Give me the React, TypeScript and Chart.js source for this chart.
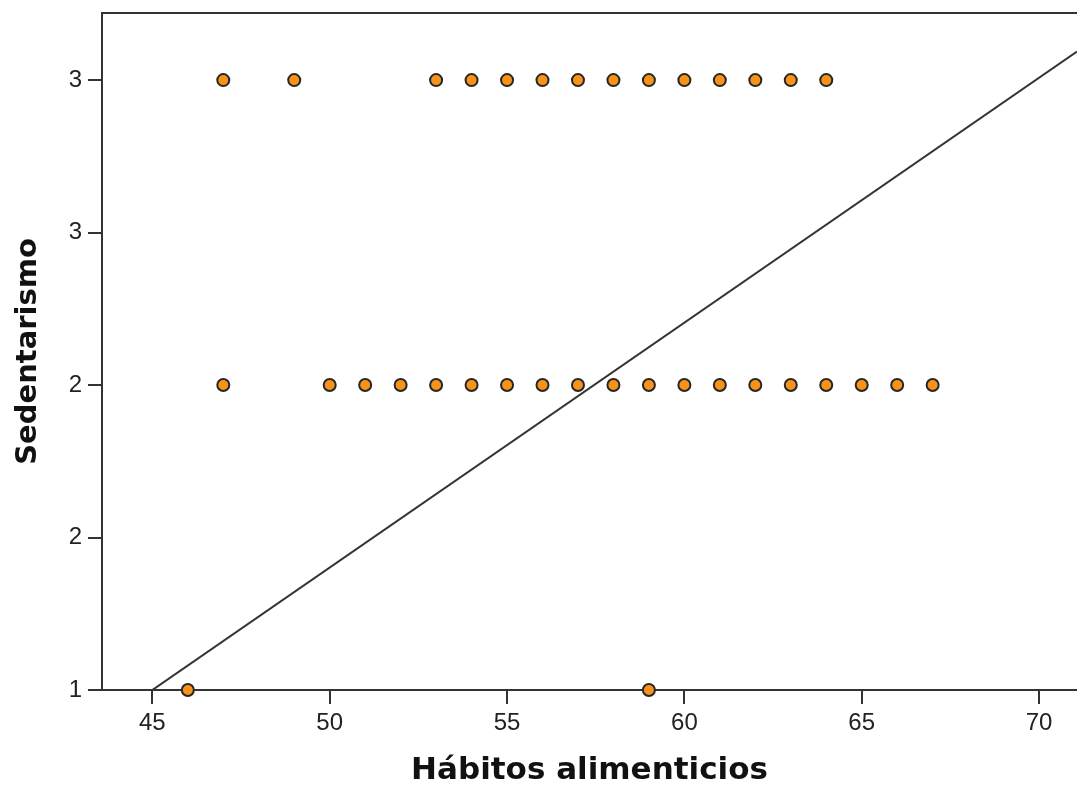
import React, { useEffect, useRef } from "react";
import { Chart, registerables } from "chart.js";

Chart.register(...registerables);

// Data
const row3X = [47, 49, 53, 54, 55, 56, 57, 58, 59, 60, 61, 62, 63, 64];
const row2X = [47, 50, 51, 52, 53, 54, 55, 56, 57, 58, 59, 60, 61, 62, 63, 64, 65, 66, 67];
const row1X = [46, 59];
const rowValues = [3, 2, 1];

const fitIntercept = -2.6135;
const fitSlope = 0.0803;

const xMin = 43.58;
const xMax = 71.07;
const yMin = 1;
const yMax = 3.22;
const xTickValues = [45, 50, 55, 60, 65, 70];
const yTickValues = [1, 1.5, 2, 2.5, 3];

const xTitle = "Hábitos alimenticios";
const yTitle = "Sedentarismo";

export default function App() {
  const canvasRef = useRef<HTMLCanvasElement | null>(null);

  useEffect(() => {
    const canvas = canvasRef.current;
    if (!canvas) return;

    const points = [
      ...row3X.map((x) => ({ x, y: rowValues[0] })),
      ...row2X.map((x) => ({ x, y: rowValues[1] })),
      ...row1X.map((x) => ({ x, y: rowValues[2] })),
    ];
    const fitLine = [xMin, xMax].map((x) => ({ x, y: fitIntercept + fitSlope * x }));

    const topBorder = {
      id: "topBorder",
      afterDraw(chart: any) {
        const { ctx, chartArea } = chart;
        ctx.save();
        ctx.strokeStyle = "#333333";
        ctx.lineWidth = 2;
        ctx.beginPath();
        ctx.moveTo(chartArea.left, chartArea.top);
        ctx.lineTo(chartArea.right, chartArea.top);
        ctx.stroke();
        ctx.restore();
      },
    };

    const chart = new Chart(canvas, {
      type: "scatter",
      data: {
        datasets: [
          {
            type: "line",
            data: fitLine,
            borderColor: "#333333",
            borderWidth: 2,
            pointRadius: 0,
            fill: false,
            order: 2,
          } as any,
          {
            data: points,
            backgroundColor: "#f7931a",
            borderColor: "#262626",
            borderWidth: 2,
            pointRadius: 6,
            clip: false,
            order: 1,
          } as any,
        ],
      },
      options: {
        responsive: false,
        animation: false,
        layout: { autoPadding: false, padding: { top: 13, left: 0, right: 0, bottom: 0 } },
        plugins: {
          legend: { display: false },
          tooltip: { enabled: false },
        },
        scales: {
          x: {
            type: "linear",
            min: xMin,
            max: xMax,
            afterBuildTicks: (scale: any) => {
              scale.ticks = xTickValues.map((v) => ({ value: v }));
            },
            afterFit: (scale: any) => {
              scale.height = 101;
              scale.paddingLeft = 0;
              scale.paddingRight = 0;
            },
            ticks: {
              color: "#222222",
              font: { family: "Liberation Sans", size: 24 },
              padding: 5,
              maxRotation: 0,
              callback: (v: any) => String(v),
            },
            grid: {
              drawOnChartArea: false,
              drawTicks: true,
              tickLength: 14,
              color: "#333333",
              lineWidth: 2,
            },
            border: { display: true, color: "#333333", width: 2 },
            title: {
              display: true,
              text: xTitle,
              color: "#111111",
              font: { family: "DejaVu Sans", size: 31, weight: "bold" },
              padding: { top: 0, bottom: 1 },
            },
          },
          y: {
            type: "linear",
            min: yMin,
            max: yMax,
            afterBuildTicks: (scale: any) => {
              scale.ticks = yTickValues.map((v) => ({ value: v }));
            },
            afterFit: (scale: any) => {
              scale.width = 102;
              scale.paddingTop = 0;
              scale.paddingBottom = 0;
            },
            ticks: {
              color: "#222222",
              font: { family: "Liberation Sans", size: 24 },
              padding: 6,
              callback: (v: any) => String(Math.round(Number(v))),
            },
            grid: {
              drawOnChartArea: false,
              drawTicks: true,
              tickLength: 14,
              color: "#333333",
              lineWidth: 2,
            },
            border: { display: true, color: "#333333", width: 2 },
            title: {
              display: true,
              text: yTitle,
              color: "#111111",
              font: { family: "DejaVu Sans", size: 29, weight: "bold" },
              padding: { top: 11, bottom: 0 },
            },
          },
        },
      },
      plugins: [topBorder],
    });

    return () => chart.destroy();
  }, []);

  return (
    <div style={{ position: "fixed", left: 0, top: 0, width: 1077, height: 791, background: "#ffffff" }}>
      <canvas ref={canvasRef} width={1077} height={791} style={{ display: "block" }} />
    </div>
  );
}
